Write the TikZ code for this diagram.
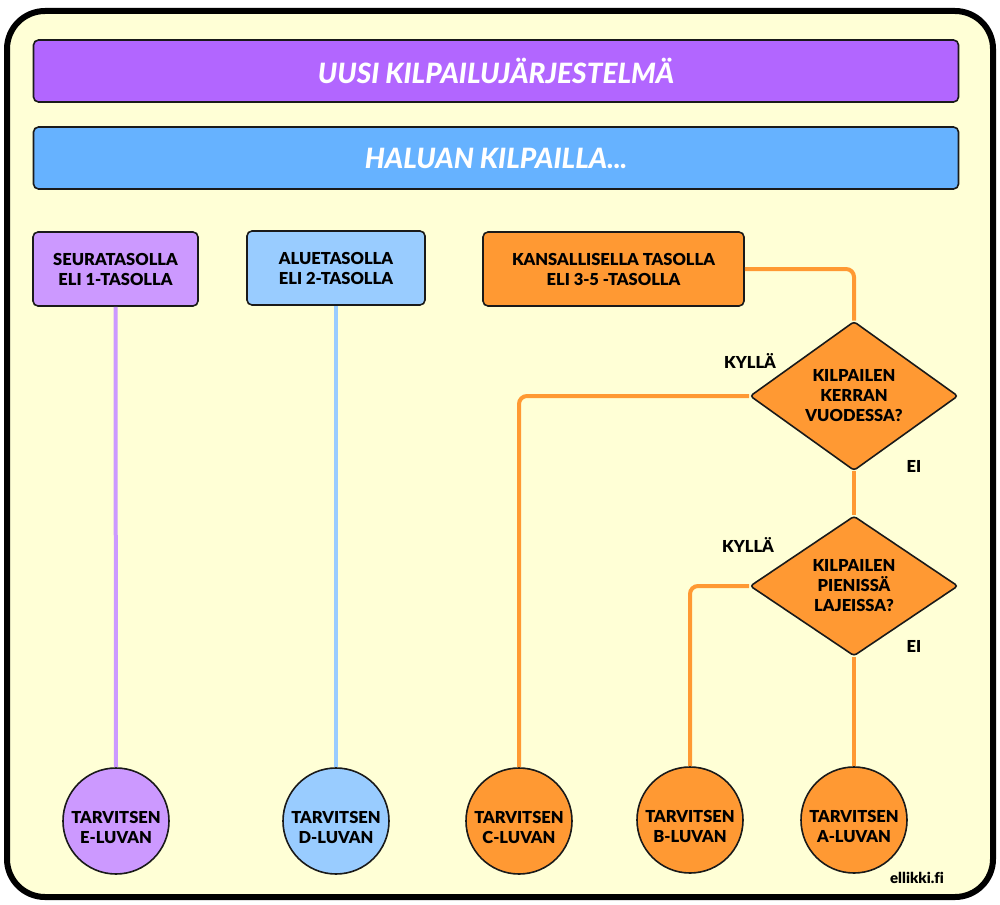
\documentclass[tikz,border=0pt]{standalone}
\usepackage{fontspec}
\setmainfont{Lato}[BoldFont={Lato Black}, BoldItalicFont={Lato Black Italic}]
\usetikzlibrary{shapes.geometric}
\definecolor{bg}{HTML}{FFFFD6}
\definecolor{titlec}{HTML}{B266FF}
\definecolor{subc}{HTML}{66B2FF}
\definecolor{lpurple}{HTML}{CC99FF}
\definecolor{lblue}{HTML}{99CCFF}
\definecolor{orng}{HTML}{FF9933}
\definecolor{edge}{HTML}{1A1A1A}
\begin{document}
\begin{tikzpicture}[x=1pt,y=-1pt,
  bar/.style={draw=edge, line width=1.6pt, rounded corners=5pt, minimum width=925pt, minimum height=62pt,
    text=white, font=\fontsize{28}{32}\selectfont\bfseries\itshape},
  levelbox/.style={draw=edge, line width=1.6pt, rounded corners=5pt, minimum height=74pt,
    align=center, font=\fontsize{16.5}{20}\selectfont\bfseries},
  question/.style={diamond, draw=edge, line width=1.6pt, fill=orng, rounded corners=3pt, inner sep=0pt,
    minimum width=208pt, minimum height=140pt, align=center, font=\fontsize{16.5}{20}\selectfont\bfseries},
  result/.style={circle, draw=edge, line width=1.6pt, minimum size=106pt, inner sep=0pt},
  resulttext/.style={align=center, font=\fontsize{16.5}{20}\selectfont\bfseries},
  conn/.style={line width=4pt, rounded corners=8pt},
  lbl/.style={font=\fontsize{16.5}{20}\selectfont\bfseries}
]
\useasboundingbox (0,0) rectangle (1000,904);
\draw[line width=6pt, fill=bg, rounded corners=38pt] (7,11) rectangle (993,897);

\node[bar, fill=titlec] (title) at (496,71) {UUSI KILPAILUJÄRJESTELMÄ};
\node[bar, fill=subc] (sub) at (496,158) {HALUAN KILPAILLA...};

\node[levelbox, fill=lpurple, minimum width=165pt] (seura) at (115.5,269) {SEURATASOLLA\\ELI 1-TASOLLA};
\node[levelbox, fill=lblue, minimum width=178pt] (alue) at (336,268) {ALUETASOLLA\\ELI 2-TASOLLA};
\node[levelbox, fill=orng, minimum width=261pt] (kans) at (613.5,269) {KANSALLISELLA TASOLLA\\ELI 3-5 -TASOLLA};

\node[question] (d1) at (854,396) {KILPAILEN\\KERRAN\\VUODESSA?};
\node[question] (d2) at (854,586) {KILPAILEN\\PIENISSÄ\\LAJEISSA?};

\node[result, fill=lpurple] (ce) at (116,821) {};
\node[result, fill=lblue] (cd) at (336,821) {};
\node[result, fill=orng] (cc) at (519,821) {};
\node[result, fill=orng] (cb) at (690,820) {};
\node[result, fill=orng] (ca) at (854,820) {};
\foreach \c/\t in {ce/E, cd/D, cc/C, cb/B, ca/A}
  \node[resulttext] (\c-text) at ([yshift=-6pt]\c.center) {TARVITSEN\\\t-LUVAN};

\draw[conn, lpurple] (seura.south) -- (ce.north);
\draw[conn, lblue] (alue.south) -- (cd.north);
\draw[conn, orng] (kans.east) -| (d1.north);
\draw[conn, orng] (d1.west) -| (cc.north);
\draw[conn, orng] (d1.south) -- (d2.north);
\draw[conn, orng] (d2.west) -| (cb.north);
\draw[conn, orng] (d2.south) -- (ca.north);

\node[lbl] (y1) at (750,361) {KYLLÄ};
\node[lbl] (n1) at (914,466) {EI};
\node[lbl] (y2) at (748,545) {KYLLÄ};
\node[lbl] (n2) at (914,646) {EI};

\node[font=\fontsize{15}{18}\selectfont\bfseries\addfontfeatures{Ligatures=NoCommon}] (credit) at (917,878) {ellikki.fi};
\end{tikzpicture}
\end{document}
